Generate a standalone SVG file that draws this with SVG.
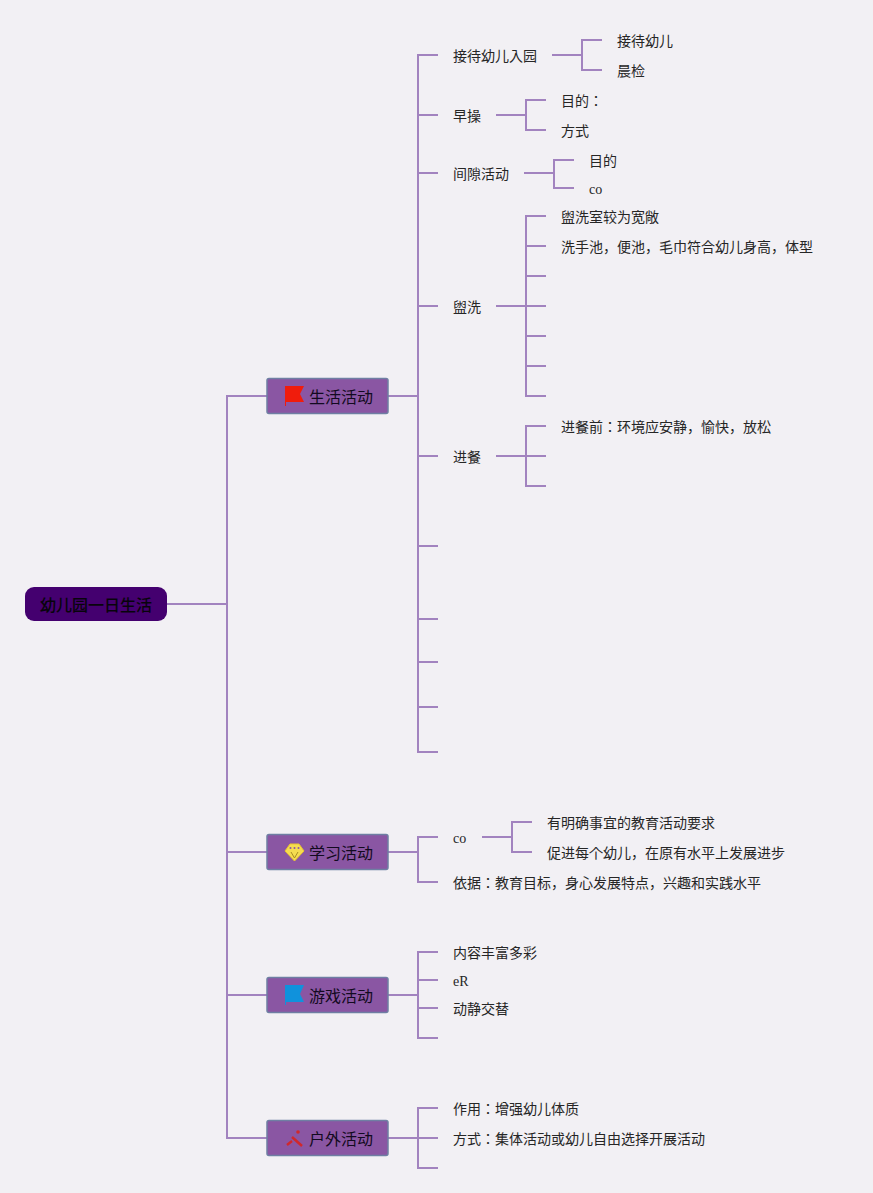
<svg xmlns="http://www.w3.org/2000/svg" width="873" height="1193" viewBox="0 0 873 1193">
<style>
text{font-family:"Noto Sans CJK JP","Liberation Serif",sans-serif;font-size:14px;fill:#262626}
.l{font-family:"Liberation Serif",serif}
.m{font-size:16px;fill:#120a20}
.r{font-size:16px;fill:#08040c;font-weight:500}
.b{fill:#8a56a3;stroke:#6f7fa3;stroke-width:1.5}
#connectors path{fill:none;stroke:#a283bf;stroke-width:2}
</style>
<rect width="873" height="1193" fill="#f2f0f4"/>
<g id="connectors">
<path d="M167 604H227M267 396H227V1138H267M227 852H267M227 995H267"/>
<path d="M388 396H418M438 55H418V752H438M418 115H438M418 173H438M418 306H438M418 456H438M418 546H438M418 619H438M418 662H438M418 707H438"/>
<path d="M552 55H582M602 40H582V70H602"/>
<path d="M496 115H526M546 100H526V130H546"/>
<path d="M524 173H554M574 160H554V188H574"/>
<path d="M496 306H526M546 216H526V396H546M526 246H546M526 276H546M526 336H546M526 366H546M526 306H546"/>
<path d="M496 456H526M546 426H526V486H546M526 456H546"/>
<path d="M388 852H418M438 837H418V882H438"/>
<path d="M482 837H512M532 822H512V852H532"/>
<path d="M388 995H418M438 952H418V1038H438M418 980H438M418 1008H438"/>
<path d="M388 1138H418M438 1108H418V1168H438M418 1138H438"/>
</g>
<g id="root"><rect x="25" y="587" width="142" height="34" rx="9" fill="#44006f"/><text class="r" x="40" y="611">幼儿园一日生活</text></g>
<g id="n1"><rect class="b" x="267" y="378.500" width="121" height="35" rx="2"/><path d="M285 386H304L300 394L304 402H286V406H285Z" fill="#f01c0c"/><text class="m" x="309" y="403">生活活动</text></g>
<g id="n2"><rect class="b" x="267" y="834.500" width="121" height="35" rx="2"/><path d="M290 844H299L304 851L294.500 861L285 851Z" fill="#f5dc50" stroke="#e8c530"/><circle cx="290.500" cy="848" r="1" fill="#8a56a3"/><circle cx="294.500" cy="848" r="1" fill="#8a56a3"/><circle cx="298.500" cy="848" r="1" fill="#8a56a3"/><path d="M291 852L294.500 858M298 852L294.500 858" fill="none" stroke="#a98c24" stroke-width="1"/><text class="m" x="309" y="859">学习活动</text></g>
<g id="n3"><rect class="b" x="267" y="977.500" width="121" height="35" rx="2"/><path d="M285 985H304L300 994L304 1002H286V1005H285Z" fill="#1092dc"/><text class="m" x="309" y="1002">游戏活动</text></g>
<g id="n4"><rect class="b" x="267" y="1120.500" width="121" height="35" rx="2"/><path d="M292 1137L302 1146" stroke="#d0282c" stroke-width="2.500" fill="none"/><path d="M287 1145L292 1141" stroke="#d0282c" stroke-width="2.500" fill="none"/><circle cx="298" cy="1132" r="1.800" fill="#d0282c"/><text class="m" x="309" y="1145">户外活动</text></g>
<g id="t1"><text x="453" y="61">接待幼儿入园</text></g>
<g id="t2"><text x="617" y="46">接待幼儿</text></g>
<g id="t3"><text x="617" y="76">晨检</text></g>
<g id="t4"><text x="453" y="121">早操</text></g>
<g id="t5"><text x="561" y="106">目的：</text></g>
<g id="t6"><text x="561" y="136">方式</text></g>
<g id="t7"><text x="453" y="179">间隙活动</text></g>
<g id="t8"><text x="589" y="166">目的</text></g>
<g id="t9"><text class="l" x="589" y="194">co</text></g>
<g id="t10"><text x="453" y="312">盥洗</text></g>
<g id="t11"><text x="561" y="222">盥洗室较为宽敞</text></g>
<g id="t12"><text x="561" y="252">洗手池，便池，毛巾符合幼儿身高，体型</text></g>
<g id="t13"><text x="453" y="462">进餐</text></g>
<g id="t14"><text x="561" y="432">进餐前：环境应安静，愉快，放松</text></g>
<g id="t15"><text class="l" x="453" y="843">co</text></g>
<g id="t16"><text x="547" y="828">有明确事宜的教育活动要求</text></g>
<g id="t17"><text x="547" y="858">促进每个幼儿，在原有水平上发展进步</text></g>
<g id="t18"><text x="453" y="888">依据：教育目标，身心发展特点，兴趣和实践水平</text></g>
<g id="t19"><text x="453" y="958">内容丰富多彩</text></g>
<g id="t20"><text class="l" x="453" y="986">eR</text></g>
<g id="t21"><text x="453" y="1014">动静交替</text></g>
<g id="t22"><text x="453" y="1114">作用：增强幼儿体质</text></g>
<g id="t23"><text x="453" y="1144">方式：集体活动或幼儿自由选择开展活动</text></g>
</svg>
